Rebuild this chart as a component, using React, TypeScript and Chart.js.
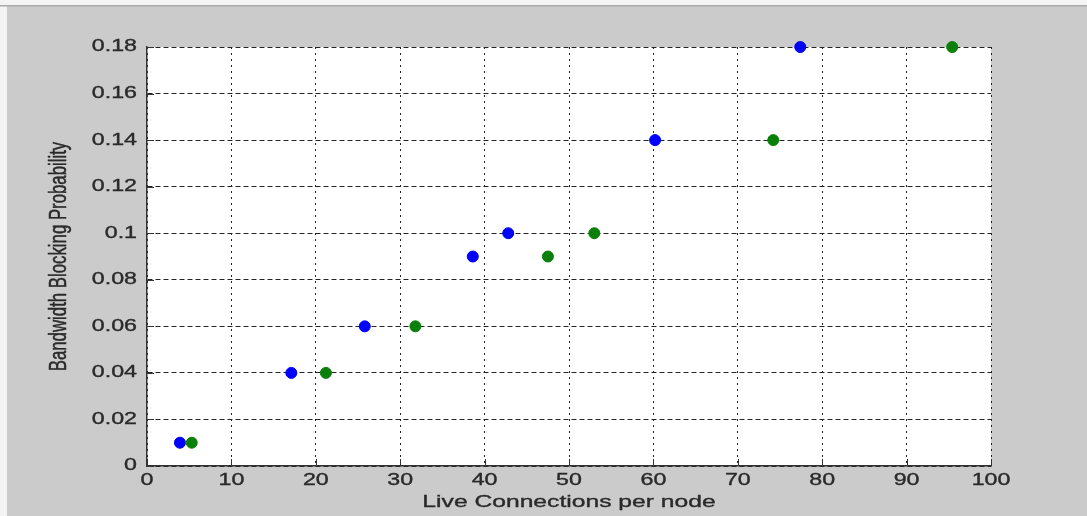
import React, { useEffect, useRef } from "react";
import { Chart, registerables } from "chart.js";

Chart.register(...registerables);

const blueX = [3.9, 17.1, 25.8, 38.6, 42.8, 60.2, 77.4];
const blueY = [0.01, 0.04, 0.06, 0.09, 0.1, 0.14, 0.18];
const greenX = [5.3, 21.2, 31.8, 47.5, 53.0, 74.2, 95.4];
const greenY = [0.01, 0.04, 0.06, 0.09, 0.1, 0.14, 0.18];
const xTickLabels = ["0", "10", "20", "30", "40", "50", "60", "70", "80", "90", "100"];
const yTickLabels = ["0", "0.02", "0.04", "0.06", "0.08", "0.1", "0.12", "0.14", "0.16", "0.18"];
const xTitle = "Live Connections per node";
const yTitle = "Bandwidth Blocking Probability";

const W = 1087;
const H = 516;
const STRETCH = 1.45;
const FONT = "16px 'Liberation Sans', Arial, sans-serif";
const TEXT = "#2a2a2a";

function stretchedText(ctx: any, text: string, x: number, y: number, align: string, rotate: boolean) {
  ctx.save();
  ctx.translate(x, y);
  ctx.scale(STRETCH, 1);
  if (rotate) ctx.rotate(-Math.PI / 2);
  ctx.textAlign = align;
  ctx.textBaseline = "middle";
  ctx.fillText(text, 0, 0);
  ctx.lineWidth = 0.35;
  ctx.strokeStyle = TEXT;
  ctx.strokeText(text, 0, 0);
  ctx.restore();
}

const matlabLook = {
  id: "matlabLook",
  beforeDraw(chart: any) {
    const ctx = chart.ctx;
    const a = chart.chartArea;
    ctx.save();
    ctx.fillStyle = "#f4f4f4";
    ctx.fillRect(0, 0, W, H);
    ctx.fillStyle = "#cbcbcb";
    ctx.fillRect(7, 6, W - 7, H - 6);
    ctx.fillStyle = "#a9a9a9";
    ctx.fillRect(0, 5, W, 1.5);
    ctx.fillStyle = "#ffffff";
    ctx.fillRect(a.left, a.top, a.right - a.left, a.bottom - a.top);
    ctx.restore();
  },
  afterDraw(chart: any) {
    const ctx = chart.ctx;
    const a = chart.chartArea;
    const xs = chart.scales.x;
    const ys = chart.scales.y;
    ctx.save();
    ctx.strokeStyle = "#333333";
    ctx.lineWidth = 1;
    ctx.setLineDash([]);
    ctx.beginPath();
    xs.ticks.forEach((t: any) => {
      const px = Math.round(xs.getPixelForValue(t.value)) + 0.5;
      ctx.moveTo(px, a.bottom);
      ctx.lineTo(px, a.bottom - 7);
    });
    ys.ticks.forEach((t: any) => {
      const py = Math.round(ys.getPixelForValue(t.value)) + 0.5;
      ctx.moveTo(a.left, py);
      ctx.lineTo(a.left + 7, py);
    });
    ctx.stroke();

    ctx.fillStyle = TEXT;
    ctx.font = FONT;
    ys.ticks.forEach((t: any, i: number) => {
      stretchedText(ctx, yTickLabels[i], a.left - 10, ys.getPixelForValue(t.value), "right", false);
    });
    xs.ticks.forEach((t: any, i: number) => {
      stretchedText(ctx, xTickLabels[i], xs.getPixelForValue(t.value), a.bottom + 15, "center", false);
    });
    ctx.font = "17px 'Liberation Sans', Arial, sans-serif";
    stretchedText(ctx, xTitle, (a.left + a.right) / 2, a.bottom + 36, "center", false);
    ctx.font = "16.8px 'Liberation Sans', Arial, sans-serif";
    stretchedText(ctx, yTitle, 59, (a.top + a.bottom) / 2, "center", true);
    ctx.restore();
  },
};

export default function App() {
  const ref = useRef<HTMLCanvasElement | null>(null);
  useEffect(() => {
    if (!ref.current) return;
    const chart = new Chart(ref.current, {
      type: "scatter",
      data: {
        datasets: [
          {
            label: "blue",
            data: blueX.map((x, i) => ({ x, y: blueY[i] })),
            backgroundColor: "#0000ff",
            borderColor: "#0000ff",
            pointRadius: 5.5,
            borderWidth: 1,
            clip: false as any,
          },
          {
            label: "green",
            data: greenX.map((x, i) => ({ x, y: greenY[i] })),
            backgroundColor: "#0a800a",
            borderColor: "#0a800a",
            pointRadius: 5.5,
            borderWidth: 1,
            clip: false as any,
          },
        ],
      },
      options: {
        animation: false,
        responsive: false,
        devicePixelRatio: 1,
        events: [],
        layout: { padding: { top: 47, right: 96, bottom: 0, left: 0 } },
        plugins: { legend: { display: false }, tooltip: { enabled: false } },
        scales: {
          x: {
            type: "linear",
            min: 0,
            max: 100,
            ticks: { stepSize: 10, display: false },
            grid: { color: "#222222", lineWidth: 1, drawTicks: false },
            border: { display: true, color: "#333333", width: 1.5, dash: [2, 4] },
            afterFit: (s: any) => {
              s.height = 50;
            },
          },
          y: {
            type: "linear",
            min: 0,
            max: 0.18,
            ticks: { stepSize: 0.02, display: false },
            grid: { color: "#222222", lineWidth: 1, drawTicks: false },
            border: { display: true, color: "#333333", width: 1.5, dash: [5, 3] },
            afterFit: (s: any) => {
              s.width = 147;
            },
          },
        },
      },
      plugins: [matlabLook],
    });
    return () => chart.destroy();
  }, []);
  return (
    <div style={{ position: "fixed", left: 0, top: 0, width: W, height: H }}>
      <canvas ref={ref} width={W} height={H} style={{ display: "block" }} />
    </div>
  );
}
